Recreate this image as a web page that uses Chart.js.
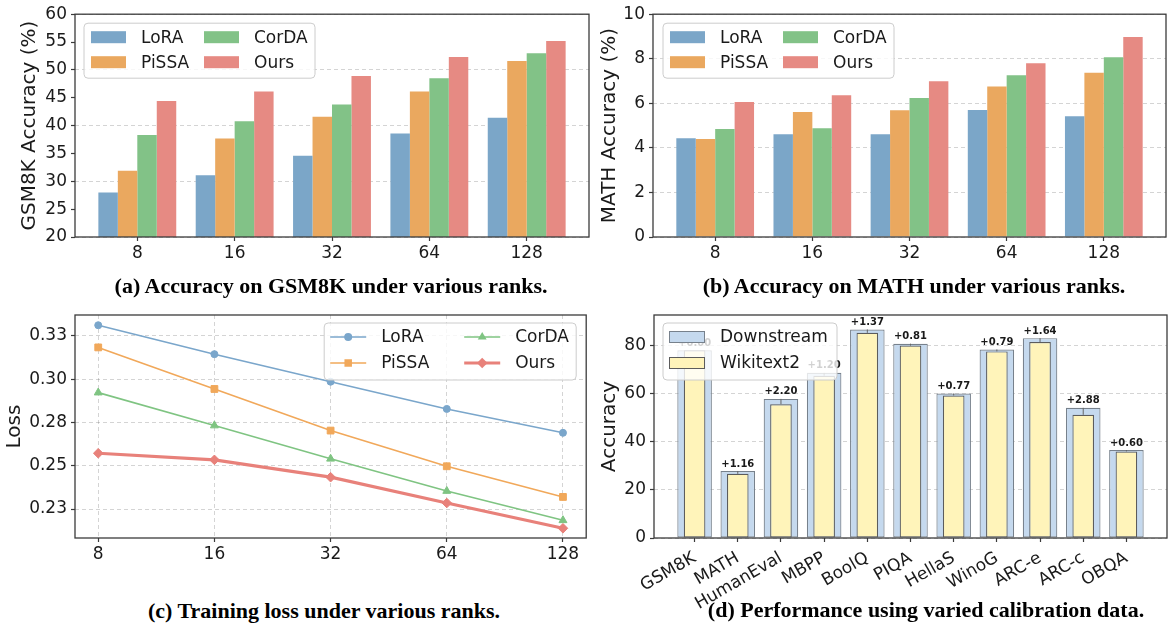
<!DOCTYPE html>
<html lang="en">
<head>
<meta charset="utf-8">
<title>Rank and calibration results</title>
<script src="https://cdn.jsdelivr.net/npm/chart.js@4.4.1/dist/chart.umd.min.js"></script>
<style>
  html, body { margin: 0; padding: 0; background: #ffffff; }
  #figure { position: relative; width: 1168px; height: 626px; overflow: hidden; background: #ffffff; }
  #figure canvas { position: absolute; }
  .caption {
    position: absolute;
    transform: translate(-50%, -50%);
    white-space: nowrap;
    font-family: 'Liberation Serif', 'Times New Roman', serif;
    font-weight: bold;
    font-size: 22px;
    color: #000000;
  }
</style>
</head>
<body>
<div id="figure">
  <canvas id="gsmChart" width="592" height="275" style="left:0px;top:0px"></canvas>
  <canvas id="mathChart" width="584" height="275" style="left:584px;top:0px"></canvas>
  <canvas id="lossChart" width="592" height="275" style="left:0px;top:300px"></canvas>
  <canvas id="calibChart" width="584" height="320" style="left:584px;top:300px"></canvas>
  <div class="caption" style="left:331px;top:286px">(a) Accuracy on GSM8K under various ranks.</div>
  <div class="caption" style="left:914px;top:286px">(b) Accuracy on MATH under various ranks.</div>
  <div class="caption" style="left:324px;top:611px">(c) Training loss under various ranks.</div>
  <div class="caption" style="left:926px;top:610px">(d) Performance using varied calibration data.</div>
</div>
<script>
'use strict';

//ranks shared by panels (a), (b) and (c)
var ranks = ['8', '16', '32', '64', '128'];
var methods = ['LoRA', 'PiSSA', 'CorDA', 'Ours'];

//(a) GSM8K accuracy (%)
var gsmLora = [28.0, 31.1, 34.6, 38.6, 41.4];
var gsmPissa = [31.9, 37.7, 41.6, 46.1, 51.6];
var gsmCorda = [38.3, 40.8, 43.8, 48.5, 53.0];
var gsmOurs = [44.4, 46.1, 48.9, 52.3, 55.2];
var gsmTicks = [20, 25, 30, 35, 40, 45, 50, 55, 60];

//(b) MATH accuracy (%)
var mathLora = [4.43, 4.61, 4.61, 5.70, 5.42];
var mathPissa = [4.40, 5.61, 5.69, 6.75, 7.37];
var mathCorda = [4.85, 4.88, 6.24, 7.26, 8.07];
var mathOurs = [6.06, 6.36, 6.99, 7.80, 8.98];
var mathTicks = [0, 2, 4, 6, 8, 10];

//(c) training loss
var lossLora = [0.3311, 0.3144, 0.2985, 0.2828, 0.2690];
var lossPissa = [0.3183, 0.2943, 0.2703, 0.2497, 0.2320];
var lossCorda = [0.2922, 0.2732, 0.2540, 0.2354, 0.2185];
var lossOurs = [0.2572, 0.2534, 0.2434, 0.2285, 0.2139];
var lossTicks = [0.225, 0.25, 0.275, 0.30, 0.325];
var lossTickLabels = ['0.23', '0.25', '0.28', '0.30', '0.33'];

//(d) accuracy with different calibration data
var tasks = ['GSM8K', 'MATH', 'HumanEval', 'MBPP', 'BoolQ', 'PIQA', 'HellaS', 'WinoG', 'ARC-e', 'ARC-c', 'OBQA'];
var downstream = [77.9, 27.8, 57.7, 68.5, 86.5, 80.6, 59.9, 78.2, 82.9, 54.0, 36.5];
var wikitext = [77.9, 26.6, 55.5, 67.3, 85.1, 79.8, 59.1, 77.4, 81.3, 51.1, 35.9];
var gainLabels = ['+0.00', '+1.16', '+2.20', '+1.20', '+1.37', '+0.81', '+0.77', '+0.79', '+1.64', '+2.88', '+0.60'];
var accTicks = [0, 20, 40, 60, 80];

//styles
var FONT = "'DejaVu Sans', Verdana, sans-serif";
var INK = '#1a1a1a';
var SPINE = '#3b3b3b';
var GRID = 'rgba(0,0,0,0.17)';
var NONE = 'rgba(0,0,0,0)';
var barColors = ['#7ba6c8', '#eaa85f', '#82c287', '#e68a83'];
var lineColors = ['#7aa6cb', '#f1a85a', '#7fc482', '#e8817a'];
var lossMarkers = ['circle', 'rect', 'triangle', 'rectRot'];
var lossMarkerSize = [3.5, 4.8, 4.6, 4.8];
var lossLineWidth = [1.6, 1.6, 1.6, 3.2];

Chart.defaults.font.family = FONT;
Chart.defaults.font.size = 17;
Chart.defaults.color = INK;

function toPoints(values) {
  return values.map(function (v, i) { return { x: i, y: v }; });
}

function indexList(list) {
  return list.map(function (name, i) { return i; });
}

//replace the generated ticks with the ones used in the figure
function fixedTicks(values) {
  return function (scale) {
    scale.ticks = values.map(function (v) { return { value: v }; });
  };
}

function fixWidth(w) {
  return function (scale) { scale.width = w; };
}

function fixHeight(h) {
  return function (scale) { scale.height = h; };
}

//rounded, semi transparent legend box like matplotlib
function legendBox(ctx, x, y, w, h) {
  var r = 4;
  ctx.beginPath();
  ctx.moveTo(x + r, y);
  ctx.lineTo(x + w - r, y);
  ctx.quadraticCurveTo(x + w, y, x + w, y + r);
  ctx.lineTo(x + w, y + h - r);
  ctx.quadraticCurveTo(x + w, y + h, x + w - r, y + h);
  ctx.lineTo(x + r, y + h);
  ctx.quadraticCurveTo(x, y + h, x, y + h - r);
  ctx.lineTo(x, y + r);
  ctx.quadraticCurveTo(x, y, x + r, y);
  ctx.closePath();
  ctx.fillStyle = 'rgba(255,255,255,0.8)';
  ctx.fill();
  ctx.strokeStyle = '#cccccc';
  ctx.lineWidth = 1;
  ctx.stroke();
}

function drawMarker(ctx, style, x, y, r) {
  ctx.beginPath();
  if (style === 'circle') {
    ctx.arc(x, y, r, 0, Math.PI * 2);
  } else if (style === 'rect') {
    var s = r * Math.SQRT1_2;
    ctx.rect(x - s, y - s, 2 * s, 2 * s);
  } else if (style === 'triangle') {
    ctx.moveTo(x, y - r);
    ctx.lineTo(x + r * 0.866, y + r / 2);
    ctx.lineTo(x - r * 0.866, y + r / 2);
  } else {
    ctx.moveTo(x, y - r);
    ctx.lineTo(x + r, y);
    ctx.lineTo(x, y + r);
    ctx.lineTo(x - r, y);
  }
  ctx.closePath();
  ctx.fill();
}

//all four spines
var framePlugin = {
  id: 'frame',
  afterDraw: function (chart) {
    var a = chart.chartArea;
    var ctx = chart.ctx;
    ctx.save();
    ctx.strokeStyle = SPINE;
    ctx.lineWidth = 1.3;
    ctx.strokeRect(a.left, a.top, a.right - a.left, a.bottom - a.top);
    ctx.restore();
  }
};

//2 column legend with colour patches (panels a, b)
function patchLegend(dx) {
  return {
    id: 'patchLegend',
    afterDraw: function (chart) {
      var a = chart.chartArea;
      var ctx = chart.ctx;
      var bx = a.left + dx;
      var by = a.top + 9;
      ctx.save();
      legendBox(ctx, bx, by, 231, 55);
      ctx.font = '17px ' + FONT;
      ctx.textBaseline = 'middle';
      chart.data.datasets.forEach(function (ds, i) {
        var col = Math.floor(i / 2);
        var row = i % 2;
        var px = bx + 7 + col * 113;
        var py = by + 14 + row * 25;
        ctx.fillStyle = ds.backgroundColor;
        ctx.fillRect(px, py - 6, 35, 12);
        ctx.fillStyle = INK;
        ctx.fillText(ds.label, px + 50, py + 1);
      });
      ctx.restore();
    }
  };
}

//2 column legend with line + marker samples (panel c)
var lineLegend = {
  id: 'lineLegend',
  afterDraw: function (chart) {
    var a = chart.chartArea;
    var ctx = chart.ctx;
    var bx = a.right - 10 - 252;
    var by = a.top + 8;
    ctx.save();
    legendBox(ctx, bx, by, 252, 57);
    ctx.font = '17px ' + FONT;
    ctx.textBaseline = 'middle';
    chart.data.datasets.forEach(function (ds, i) {
      var col = Math.floor(i / 2);
      var row = i % 2;
      var lx = bx + 6 + col * 134;
      var ly = by + 14 + row * 26;
      ctx.strokeStyle = ds.borderColor;
      ctx.lineWidth = ds.borderWidth;
      ctx.beginPath();
      ctx.moveTo(lx, ly);
      ctx.lineTo(lx + 36, ly);
      ctx.stroke();
      ctx.fillStyle = ds.borderColor;
      drawMarker(ctx, ds.pointStyle, lx + 18, ly, ds.pointRadius + 0.5);
      ctx.fillStyle = INK;
      ctx.fillText(ds.label, lx + 51, ly + 1);
    });
    ctx.restore();
  }
};

//gain labels and connector between the two bar tops (panel d)
var gainPlugin = {
  id: 'gains',
  afterDatasetsDraw: function (chart) {
    var ctx = chart.ctx;
    var y = chart.scales.y;
    var bars = chart.getDatasetMeta(0).data;
    ctx.save();
    ctx.font = 'bold 10px ' + FONT;
    ctx.textAlign = 'center';
    ctx.textBaseline = 'bottom';
    for (var i = 0; i < gainLabels.length; i++) {
      var top = y.getPixelForValue(downstream[i]);
      var low = y.getPixelForValue(wikitext[i]);
      ctx.strokeStyle = '#666666';
      ctx.lineWidth = 1;
      ctx.beginPath();
      ctx.moveTo(bars[i].x, low);
      ctx.lineTo(bars[i].x, top);
      ctx.stroke();
      ctx.fillStyle = INK;
      ctx.fillText(gainLabels[i], bars[i].x, top - 2);
    }
    ctx.restore();
  }
};

var calibLegend = {
  id: 'calibLegend',
  afterDraw: function (chart) {
    var a = chart.chartArea;
    var ctx = chart.ctx;
    var bx = a.left + 9;
    var by = a.top + 8;
    ctx.save();
    legendBox(ctx, bx, by, 174, 57);
    ctx.font = '17px ' + FONT;
    ctx.textBaseline = 'middle';
    chart.data.datasets.forEach(function (ds, i) {
      var px = bx + 6;
      var py = by + 14 + i * 26;
      ctx.fillStyle = ds.backgroundColor;
      ctx.fillRect(px, py - 6, 36, 12);
      ctx.strokeStyle = ds.borderColor;
      ctx.lineWidth = 1;
      ctx.strokeRect(px + 0.5, py - 5.5, 35, 11);
      ctx.fillStyle = INK;
      ctx.fillText(ds.label, px + 51, py + 1);
    });
    ctx.restore();
  }
};

function tickGrid(color, showOnArea) {
  return {
    drawOnChartArea: showOnArea,
    color: color,
    lineWidth: 1,
    borderDash: [4, 3],
    drawTicks: true,
    tickLength: 4,
    tickColor: SPINE,
    tickWidth: 1.2,
    tickBorderDash: [],
    offset: false
  };
}

//one grouped bar panel for (a) and (b)
function rankBars(canvasId, series, yMin, yMax, yTicks, gridStep, yTitle, titlePad, axisWidth, rightPad, legendDx) {
  var datasets = methods.map(function (name, i) {
    return {
      label: name,
      data: toPoints(series[i]),
      backgroundColor: barColors[i],
      borderWidth: 0,
      categoryPercentage: 0.8,
      barPercentage: 1
    };
  });

  return new Chart(document.getElementById(canvasId), {
    type: 'bar',
    data: { datasets: datasets },
    options: {
      responsive: false,
      animation: false,
      devicePixelRatio: 1,
      events: [],
      layout: { padding: { left: 0, right: rightPad, top: 14, bottom: 0 } },
      plugins: { legend: { display: false }, tooltip: { enabled: false } },
      scales: {
        x: {
          type: 'linear',
          min: -0.64,
          max: 4.64,
          offset: false,
          afterBuildTicks: fixedTicks(indexList(ranks)),
          afterFit: fixHeight(38),
          ticks: { padding: 2, autoSkip: false, maxRotation: 0, callback: function (v) { return ranks[v]; } },
          grid: tickGrid(NONE, false),
          border: { display: false }
        },
        y: {
          type: 'linear',
          min: yMin,
          max: yMax,
          afterBuildTicks: fixedTicks(yTicks),
          afterFit: fixWidth(axisWidth),
          ticks: { padding: 4, callback: function (v) { return String(v); } },
          title: { display: true, text: yTitle, font: { size: 20 }, padding: { top: titlePad, bottom: 0 } },
          grid: tickGrid(function (c) {
            return c.tick && Math.abs(c.tick.value % gridStep) < 1e-9 ? GRID : NONE;
          }, true),
          border: { display: false, dash: [4, 3] }
        }
      }
    },
    plugins: [framePlugin, patchLegend(legendDx)]
  });
}

rankBars('gsmChart', [gsmLora, gsmPissa, gsmCorda, gsmOurs], 20, 60, gsmTicks, 10,
  'GSM8K Accuracy (%)', 18, 75, 3, 9);

rankBars('mathChart', [mathLora, mathPissa, mathCorda, mathOurs], 0, 10, mathTicks, 2,
  'MATH Accuracy (%)', 14, 69, 2, 10);

//(c) loss lines
var lossSeries = [lossLora, lossPissa, lossCorda, lossOurs];
new Chart(document.getElementById('lossChart'), {
  type: 'line',
  data: {
    datasets: methods.map(function (name, i) {
      return {
        label: name,
        data: toPoints(lossSeries[i]),
        borderColor: lineColors[i],
        backgroundColor: lineColors[i],
        borderWidth: lossLineWidth[i],
        pointStyle: lossMarkers[i],
        pointRadius: lossMarkerSize[i],
        pointBorderWidth: 1,
        pointBackgroundColor: lineColors[i],
        pointBorderColor: lineColors[i],
        tension: 0,
        fill: false
      };
    })
  },
  options: {
    responsive: false,
    animation: false,
    devicePixelRatio: 1,
    events: [],
    clip: false,
    layout: { padding: { left: 0, right: 3, top: 15, bottom: 0 } },
    plugins: { legend: { display: false }, tooltip: { enabled: false } },
    scales: {
      x: {
        type: 'linear',
        min: -0.2,
        max: 4.2,
        afterBuildTicks: fixedTicks(indexList(ranks)),
        afterFit: fixHeight(37),
        ticks: { padding: 2, autoSkip: false, maxRotation: 0, callback: function (v) { return ranks[v]; } },
        grid: tickGrid(GRID, true),
        border: { display: false, dash: [4, 3] }
      },
      y: {
        type: 'linear',
        min: 0.2083,
        max: 0.3370,
        afterBuildTicks: fixedTicks(lossTicks),
        afterFit: fixWidth(75),
        ticks: { padding: 4, callback: function (v, i) { return lossTickLabels[i]; } },
        title: { display: true, text: 'Loss', font: { size: 20 }, padding: { top: 3, bottom: 0 } },
        grid: tickGrid(GRID, true),
        border: { display: false, dash: [4, 3] }
      }
    }
  },
  plugins: [framePlugin, lineLegend]
});

//(d) calibration data bars; the narrower Wikitext2 bar sits in front
new Chart(document.getElementById('calibChart'), {
  type: 'bar',
  data: {
    datasets: [
      {
        label: 'Downstream',
        data: toPoints(downstream),
        backgroundColor: '#c5d9ee',
        borderColor: '#77818c',
        borderWidth: 1.2,
        borderSkipped: false,
        grouped: false,
        order: 2,
        categoryPercentage: 1,
        barPercentage: 0.8
      },
      {
        label: 'Wikitext2',
        data: toPoints(wikitext),
        backgroundColor: '#fff4ba',
        borderColor: '#5c5c5c',
        borderWidth: 1.2,
        borderSkipped: false,
        grouped: false,
        order: 1,
        categoryPercentage: 1,
        barPercentage: 0.5
      }
    ]
  },
  options: {
    responsive: false,
    animation: false,
    devicePixelRatio: 1,
    events: [],
    layout: { padding: { left: 0, right: 1, top: 15, bottom: 0 } },
    plugins: { legend: { display: false }, tooltip: { enabled: false } },
    scales: {
      x: {
        type: 'linear',
        min: -0.94,
        max: 10.94,
        offset: false,
        afterBuildTicks: fixedTicks(indexList(tasks)),
        afterFit: fixHeight(82),
        ticks: { padding: 6, autoSkip: false, minRotation: 30, maxRotation: 30, callback: function (v) { return tasks[v]; } },
        grid: tickGrid(NONE, false),
        border: { display: false }
      },
      y: {
        type: 'linear',
        min: 0,
        max: 92.5,
        afterBuildTicks: fixedTicks(accTicks),
        afterFit: fixWidth(70),
        ticks: { padding: 4, callback: function (v) { return String(v); } },
        title: { display: true, text: 'Accuracy', font: { size: 20 }, padding: { top: 14, bottom: 0 } },
        grid: tickGrid(GRID, true),
        border: { display: false, dash: [4, 3] }
      }
    }
  },
  plugins: [gainPlugin, framePlugin, calibLegend]
});
</script>
</body>
</html>
